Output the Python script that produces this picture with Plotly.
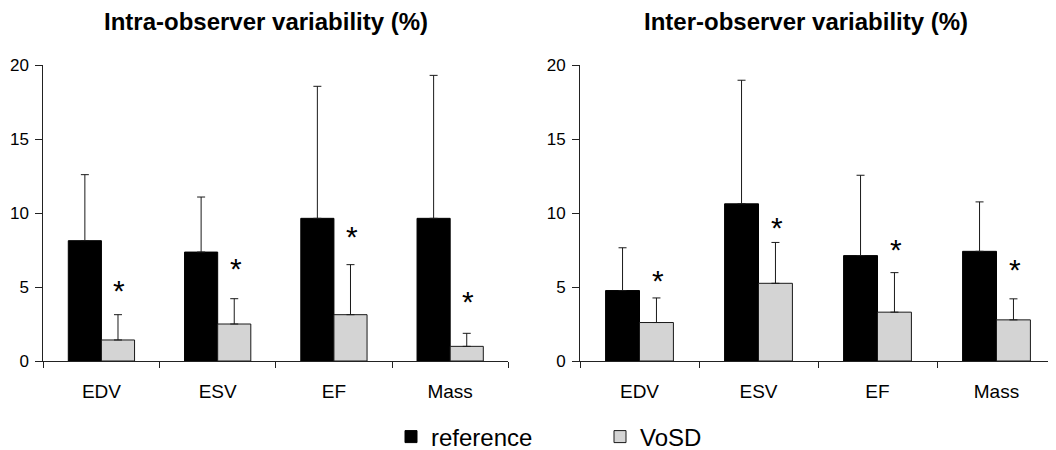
import plotly.graph_objects as go

categories = ["EDV", "ESV", "EF", "Mass"]

# Intra-observer variability (%)
intra_reference = [8.13, 7.36, 9.64, 9.64]
intra_reference_sd = [4.46, 3.72, 8.92, 9.66]
intra_vosd = [1.42, 2.50, 3.13, 0.99]
intra_vosd_sd = [1.71, 1.71, 3.38, 0.88]
intra_star_y = [5.04, 6.50, 8.65, 4.32]

# Inter-observer variability (%)
inter_reference = [4.76, 10.62, 7.12, 7.41]
inter_reference_sd = [2.89, 8.35, 5.43, 3.34]
inter_vosd = [2.60, 5.25, 3.30, 2.78]
inter_vosd_sd = [1.66, 2.76, 2.67, 1.42]
inter_star_y = [5.70, 9.29, 7.83, 6.42]

y_ticks = [0, 5, 10, 15, 20]
titles = ["Intra-observer variability (%)", "Inter-observer variability (%)"]

# page has an 8px body margin: the figure is sized to fill the rest of the window
OFF = 8
W, H = 1056 - OFF, 450 - OFF
FONT = "Liberation Sans, Arial, Helvetica, sans-serif"


def fx(page_x):
    return page_x - OFF


fig = go.Figure()

panels = [
    (intra_reference, intra_reference_sd, intra_vosd, intra_vosd_sd, intra_star_y, "x", "y"),
    (inter_reference, inter_reference_sd, inter_vosd, inter_vosd_sd, inter_star_y, "x2", "y2"),
]

for i, (ref, ref_sd, vo, vo_sd, stars, xa, ya) in enumerate(panels):
    fig.add_trace(go.Bar(
        x=categories, y=ref, name="reference", xaxis=xa, yaxis=ya,
        marker=dict(color="#000000", line=dict(color="#000000", width=1)),
        error_y=dict(type="data", symmetric=False, array=ref_sd,
                     arrayminus=[0] * len(ref), color="#1a1a1a", thickness=1, width=4),
        showlegend=(i == 0), legendgroup="reference",
    ))
    fig.add_trace(go.Bar(
        x=categories, y=vo, name="VoSD", xaxis=xa, yaxis=ya,
        marker=dict(color="#d4d4d4", line=dict(color="#1a1a1a", width=1)),
        error_y=dict(type="data", symmetric=False, array=vo_sd,
                     arrayminus=[0] * len(vo), color="#1a1a1a", thickness=1, width=4),
        showlegend=(i == 0), legendgroup="VoSD",
    ))
    for c, sy in zip(categories, stars):
        fig.add_annotation(x=c, y=sy, xref=xa, yref=ya, text="*", showarrow=False,
                           xshift=18, yshift=-4, yanchor="middle",
                           font=dict(family=FONT, size=30, color="#000000"))

top_px, bot_px = fx(65.3), fx(361.3)
plot_h = bot_px - top_px

axis_common = dict(showline=True, linecolor="#222222", linewidth=1, automargin=False,
                   ticks="outside", tickcolor="#222222", showgrid=False, zeroline=False)

fig.update_layout(
    width=W, height=H,
    margin=dict(l=0, r=0, t=top_px, b=H - bot_px),
    paper_bgcolor="white", plot_bgcolor="white",
    barmode="group", bargap=0.43, bargroupgap=0,
    font=dict(family=FONT, color="#000000"),
    xaxis=dict(domain=[fx(43.3) / W, fx(508.3) / W], type="category", tickson="boundaries",
               ticklen=6, tickfont=dict(size=19), ticklabelstandoff=13, **axis_common),
    xaxis2=dict(domain=[fx(580) / W, 1.0], type="category", tickson="boundaries",
                ticklen=6, tickfont=dict(size=19), ticklabelstandoff=13, **axis_common),
    yaxis=dict(range=[0, 20], tickvals=y_ticks, ticklen=7, tickfont=dict(size=17),
               ticklabelstandoff=3, anchor="x", **axis_common),
    yaxis2=dict(range=[0, 20], tickvals=y_ticks, ticklen=7, tickfont=dict(size=17),
                ticklabelstandoff=3, anchor="x2", **axis_common),
    legend=dict(orientation="h", xref="container", yref="container",
                x=fx(391) / W, xanchor="left", y=(H - fx(437)) / H, yanchor="middle",
                font=dict(size=24), entrywidth=164,
                bgcolor="rgba(0,0,0,0)"),
    showlegend=True,
)

title_centers = [266, 806]
for t, cx in zip(titles, title_centers):
    fig.add_annotation(x=fx(cx) / W, y=1 + (top_px - fx(22)) / plot_h, xref="paper", yref="paper",
                       text="<b>" + t + "</b>", showarrow=False, xanchor="center",
                       yanchor="middle", font=dict(family=FONT, size=24, color="#000000"))

fig.write_html("out.html")
